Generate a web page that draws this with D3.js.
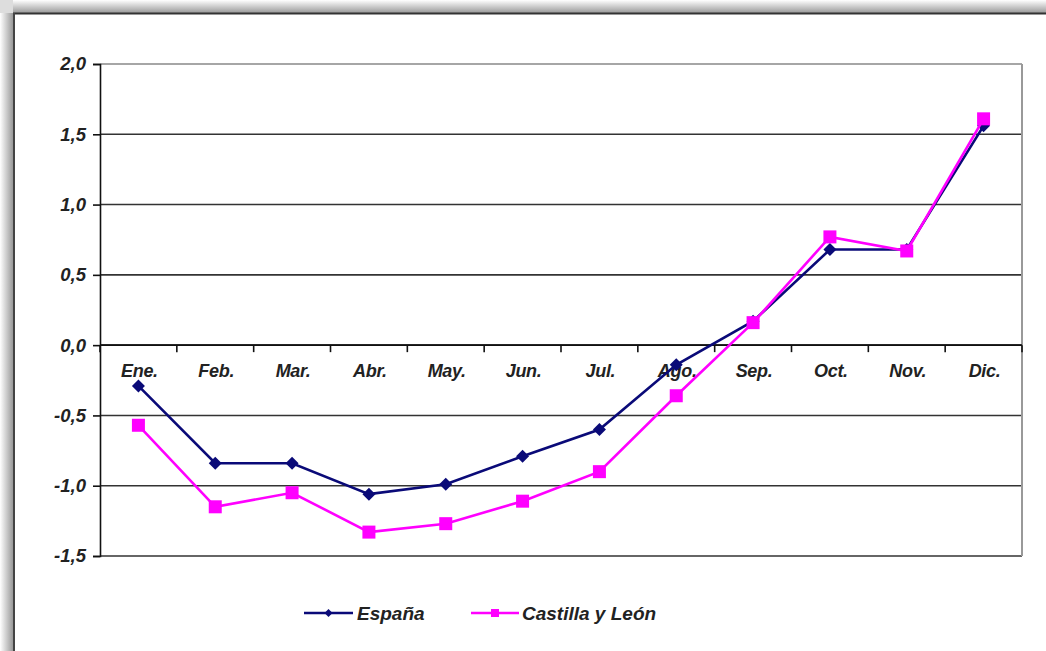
<!DOCTYPE html>
<html><head><meta charset="utf-8">
<script src="https://cdn.jsdelivr.net/npm/d3@7"></script>
<style>body{margin:0;background:#fff;}svg{display:block;}</style>
</head><body>
<svg id="c" width="1046" height="651"></svg>
<script>
const months = ["Ene.","Feb.","Mar.","Abr.","May.","Jun.","Jul.","Ago.","Sep.","Oct.","Nov.","Dic."];
const espana = [-0.29,-0.84,-0.84,-1.06,-0.99,-0.79,-0.60,-0.14,0.17,0.68,0.68,1.56];
const castilla = [-0.57,-1.15,-1.05,-1.33,-1.27,-1.11,-0.90,-0.36,0.16,0.77,0.67,1.61];
const yTicks = [2.0,1.5,1.0,0.5,0.0,-0.5,-1.0,-1.5];
const seriesNames = ["España","Castilla y León"];

const svg = d3.select("#c");
const defs = svg.append("defs");
const gt = defs.append("linearGradient").attr("id","gt").attr("x1",0).attr("y1",0).attr("x2",0).attr("y2",1);
gt.append("stop").attr("offset","0").attr("stop-color","#fff");
gt.append("stop").attr("offset","1").attr("stop-color","#999");
const gl = defs.append("linearGradient").attr("id","gl").attr("x1",0).attr("y1",0).attr("x2",1).attr("y2",0);
gl.append("stop").attr("offset","0").attr("stop-color","#fff");
gl.append("stop").attr("offset","1").attr("stop-color","#999");

svg.append("rect").attr("x",0).attr("y",0).attr("width",1046).attr("height",13).attr("fill","url(#gt)");
svg.append("rect").attr("x",0).attr("y",0).attr("width",13).attr("height",651).attr("fill","url(#gl)");
svg.append("rect").attr("x",0).attr("y",0).attr("width",13).attr("height",13).attr("fill","#ddd");
svg.append("line").attr("x1",13).attr("x2",1046).attr("y1",13.5).attr("y2",13.5).attr("stroke","#333").attr("stroke-width",2);
svg.append("line").attr("x1",14).attr("x2",14).attr("y1",13).attr("y2",651).attr("stroke","#444").attr("stroke-width",2);

const L = 100, R = 1022, T = 64, B = 556;
const x = d3.scaleBand().domain(months).range([L,R]);
const y = d3.scaleLinear().domain([-1.5,2.0]).range([B,T]);
const font = "Liberation Sans, Arial, sans-serif";

svg.append("g").selectAll("line").data(yTicks).join("line")
  .attr("x1",L).attr("x2",R).attr("y1",d=>y(d)).attr("y2",d=>y(d))
  .attr("stroke",d=>d===2.0?"#888":"#333").attr("stroke-width",1.6);
svg.append("line").attr("x1",R).attr("x2",R).attr("y1",T).attr("y2",B).attr("stroke","#999").attr("stroke-width",2);

const yAxis = d3.axisLeft(y).tickValues(yTicks).tickSize(7).tickPadding(7)
  .tickFormat(d=>d3.format(".1f")(d).replace(".",",").replace("−","-"));
const ya = svg.append("g").attr("transform",`translate(${L},0)`).call(yAxis);
ya.select(".domain").attr("stroke","#111").attr("stroke-width",1.6);
ya.selectAll(".tick line").attr("stroke","#111").attr("stroke-width",1.6);
ya.selectAll("text").attr("font-family",font).attr("font-size",18.5)
  .attr("font-weight","bold").attr("font-style","italic").attr("fill","#222");

const xa = svg.append("g").attr("transform",`translate(0,${y(0)})`);
xa.append("line").attr("x1",L).attr("x2",R).attr("y1",0).attr("y2",0).attr("stroke","#111").attr("stroke-width",1.6);
const bounds = months.map(m=>x(m)).concat([R]);
xa.selectAll("line.tk").data(bounds).join("line").attr("class","tk")
  .attr("x1",d=>d).attr("x2",d=>d).attr("y1",0).attr("y2",7).attr("stroke","#111").attr("stroke-width",1.6);
xa.selectAll("text").data(months).join("text")
  .attr("x",d=>x(d)+x.bandwidth()/2+1).attr("y",32).attr("text-anchor","middle")
  .attr("font-family",font).attr("font-size",18)
  .attr("font-weight","bold").attr("font-style","italic").attr("fill","#222").attr("letter-spacing","-0.3")
  .text(d=>d);

const cx = i => x(months[i]) + x.bandwidth()/2;
const line = d3.line().x((d,i)=>cx(i)).y(d=>y(d));
const diamond = s => `M0,${-s}L${s},0L0,${s}L${-s},0Z`;

svg.append("path").datum(espana).attr("d",line).attr("fill","none").attr("stroke","#0a0a78").attr("stroke-width",2.6);
svg.append("g").selectAll("path").data(espana).join("path")
  .attr("d",diamond(6.5))
  .attr("transform",(d,i)=>`translate(${cx(i)},${y(d)})`).attr("fill","#0a0a78");
svg.append("path").datum(castilla).attr("d",line).attr("fill","none").attr("stroke","#ff00ff").attr("stroke-width",2.6);
svg.append("g").selectAll("rect").data(castilla).join("rect")
  .attr("x",(d,i)=>cx(i)-6.5).attr("y",d=>y(d)-6.5).attr("width",13).attr("height",13).attr("fill","#ff00ff");

const lg = svg.append("g");
const legY = 613;
lg.append("line").attr("x1",304).attr("x2",353).attr("y1",legY).attr("y2",legY).attr("stroke","#0a0a78").attr("stroke-width",2.6);
lg.append("path").attr("d",diamond(4)).attr("transform",`translate(328.5,${legY})`).attr("fill","#0a0a78");
lg.append("text").attr("x",357).attr("y",legY+7).text(seriesNames[0]);
lg.append("line").attr("x1",471).attr("x2",519).attr("y1",legY).attr("y2",legY).attr("stroke","#ff00ff").attr("stroke-width",2.6);
lg.append("rect").attr("x",491).attr("y",legY-4).attr("width",8).attr("height",8).attr("fill","#ff00ff");
lg.append("text").attr("x",522).attr("y",legY+7).text(seriesNames[1]);
lg.selectAll("text").attr("font-family",font).attr("font-size",19)
  .attr("font-weight","bold").attr("font-style","italic").attr("fill","#222");
</script>
</body></html>
